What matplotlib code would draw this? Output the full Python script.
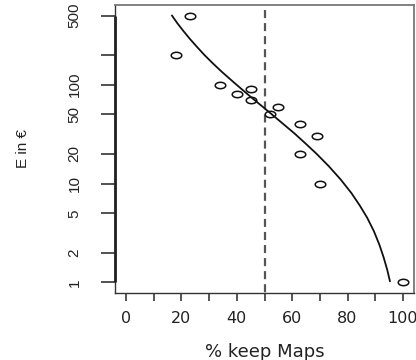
import matplotlib
matplotlib.use("Agg")
import matplotlib.pyplot as plt
from matplotlib.path import Path
from matplotlib.transforms import Affine2D

# Observed values: share of maps kept (%) against value E (EUR)
keep_pct = [23, 18, 34, 40, 45, 45, 55, 52, 63, 69, 63, 70, 100]
value_eur = [500, 200, 100, 80, 90, 70, 60, 50, 40, 30, 20, 10, 1]

# Fitted response curve (share kept at each value)
fit_eur = [500, 420, 350, 290, 240, 200, 165, 135, 110, 90, 75, 60, 50, 40,
           32, 25, 20, 15, 11, 8, 6, 4.5, 3.3, 2.4, 1.8, 1.35, 1.03]
fit_pct = [16.6, 18.5, 20.7, 23.1, 25.7, 28.3, 31.3, 34.6, 38.2, 41.8, 45.1,
           49.3, 52.7, 56.8, 60.9, 65.1, 68.8, 73.2, 77.5, 81.4, 84.4, 87.1,
           89.5, 91.5, 93.0, 94.3, 95.3]

threshold_pct = 50

x_ticks = list(range(0, 101, 10))
x_labels = [str(v) if v % 20 == 0 else "" for v in x_ticks]
y_ticks = [1, 2, 5, 10, 20, 50, 100, 200, 500]
y_labels = ["1", "2", "5", "10", "20", "50", "100", "", "500"]

y_font, y_size = "Liberation Sans", 11
x_font = "DejaVu Sans"
text_color = "#222222"

plt.rcParams["lines.scale_dashes"] = False

W, H = 416, 360
fig = plt.figure(figsize=(W / 100, H / 100), dpi=100)
left, right, top, bottom = 115, 414, 5, 293
ax = fig.add_axes([left / W, 1 - bottom / H, (right - left) / W, (bottom - top) / H])

ax.set_yscale("log")
ax.set_xlim(-4, 104)
ax.set_ylim(10 ** -0.108, 10 ** 2.807)

# horizontally elongated open circle marker
ellipse = Path.unit_circle().transformed(Affine2D().scale(1.65, 1.0))

ax.plot(fit_pct, fit_eur, color="#111111", lw=1.3, zorder=3)
ax.plot(keep_pct, value_eur, linestyle="none", marker=ellipse, markersize=7.6,
        markerfacecolor="none", markeredgecolor="#111111", markeredgewidth=1.1,
        zorder=4)

ylo, yhi = ax.get_ylim()
ax.plot([threshold_pct, threshold_pct], [yhi, ylo], color="#555555", lw=1.6,
        linestyle=(5.8, (5.8, 3.6)), zorder=2)

# y axis line spanning the labelled range
ax.plot([-4, -4], [min(y_ticks), max(y_ticks)], color="#222222", lw=2.0,
        clip_on=False, zorder=5, solid_capstyle="butt")

for side in ["left", "bottom"]:
    ax.spines[side].set_color("#333333")
    ax.spines[side].set_linewidth(1.0)
for side in ["top", "right"]:
    ax.spines[side].set_color("#777777")
    ax.spines[side].set_linewidth(1.3)

ax.minorticks_off()
ax.set_xticks(x_ticks)
ax.set_xticklabels(x_labels, fontfamily=x_font, fontsize=11.5, color=text_color)
ax.tick_params(axis="x", direction="out", length=5.5, width=1.4, color="#555555", pad=7.5)

ax.set_yticks(y_ticks)
ax.set_yticklabels(y_labels, fontfamily=y_font, fontsize=y_size, color=text_color,
                   rotation=90, va="center")
ax.tick_params(axis="y", direction="out", length=10, width=1.1, color="#222222", pad=14)

ax.set_xlabel("% keep Maps", fontfamily=x_font, fontsize=13, color=text_color, va="top")
ax.xaxis.set_label_coords(0.5, -0.172)
ax.set_ylabel("E in €", fontfamily=y_font, fontsize=y_size, color=text_color)
ax.yaxis.label.set_va("center")
ax.yaxis.set_label_coords(-0.308, 0.5)

fig.savefig("out.png", dpi=100)
